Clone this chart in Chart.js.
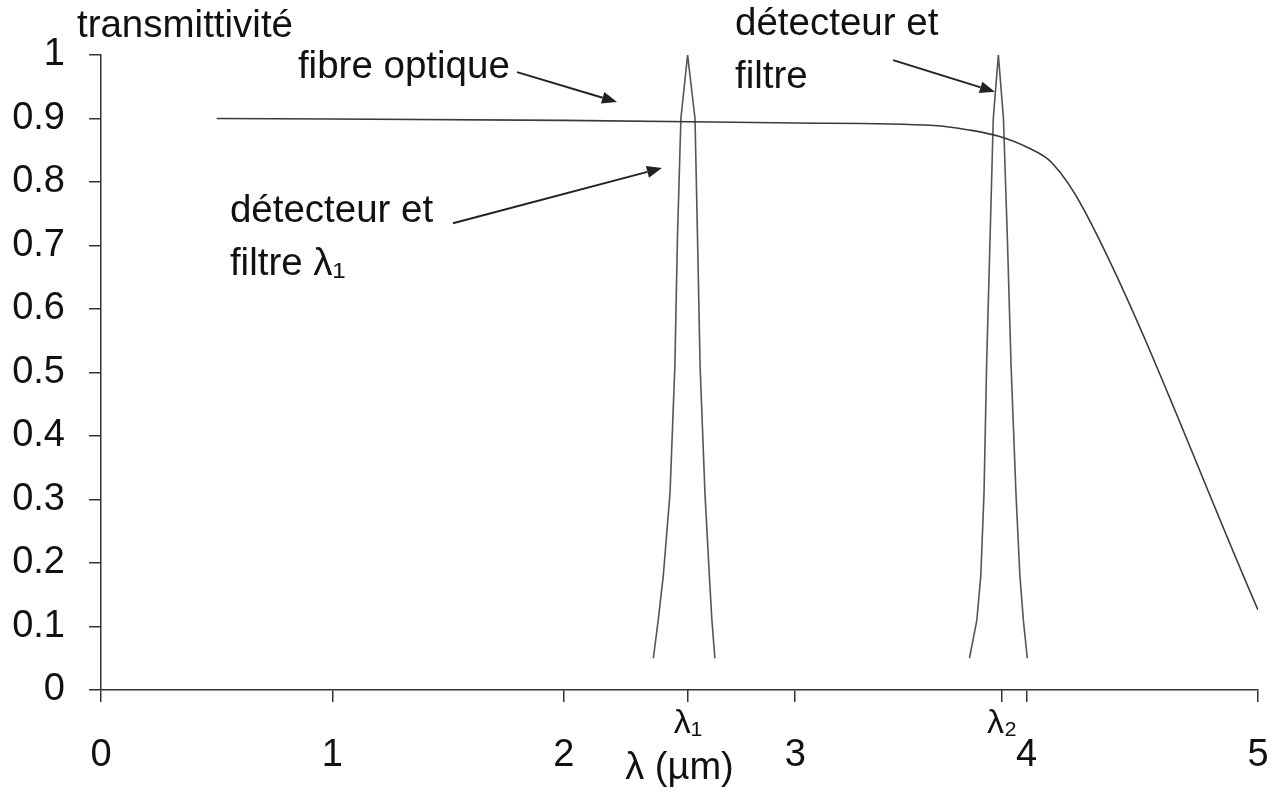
<!DOCTYPE html>
<html lang="fr">
<head>
<meta charset="utf-8">
<title>Transmittivité</title>
<script src="https://cdn.jsdelivr.net/npm/chart.js@4.4.1/dist/chart.umd.min.js"></script>
<style>
  html, body { margin: 0; padding: 0; background: #fff; }
</style>
</head>
<body>
<canvas id="chartCanvas" width="1280" height="796"></canvas>
<script>
    // fibre optique
    const fibreX = [0.5, 2.0, 3.0, 3.6, 3.75, 3.88, 4.0, 4.11, 4.25, 5.0];
    const fibreY = [0.9, 0.897, 0.893, 0.889, 0.882, 0.872, 0.855, 0.83, 0.755, 0.126];

    // détecteur et filtre lambda 1
    const filtre1X = [2.387, 2.408, 2.430, 2.459, 2.480, 2.491, 2.506, 2.535, 2.567, 2.578, 2.589, 2.610, 2.629, 2.640, 2.653];
    const filtre1Y = [0.05, 0.11, 0.18, 0.31, 0.51, 0.71, 0.9, 1.0, 0.9, 0.71, 0.51, 0.31, 0.18, 0.11, 0.05];

    // détecteur et filtre lambda 2
    const filtre2X = [3.753, 3.785, 3.802, 3.816, 3.827, 3.842, 3.856, 3.878, 3.900, 3.917, 3.933, 3.954, 3.971, 3.986, 4.003];
    const filtre2Y = [0.05, 0.11, 0.18, 0.31, 0.51, 0.71, 0.9, 1.0, 0.9, 0.71, 0.51, 0.31, 0.18, 0.11, 0.05];

    // graduations
    const lambdaTicks = [2.537, 3.894];
    const lambdaLabels = ['λ₁', 'λ₂'];

    // textes et flèches (en coordonnées des axes)
    const notes = [
        { lines: ['transmittivité'], x: -0.104, y: 1.028 },
        { lines: ['fibre optique'], x: 0.851, y: 0.964 },
        { lines: ['détecteur et', 'filtre λ₁'], x: 0.557, y: 0.737 },
        { lines: ['détecteur et', 'filtre'], x: 2.740, y: 1.031 }
    ];
    const arrows = [
        { from: [1.798, 0.973], to: [2.230, 0.926] },
        { from: [1.521, 0.735], to: [2.424, 0.822] },
        { from: [3.423, 0.992], to: [3.863, 0.942] }
    ];

    const toPoints = (xs, ys) => xs.map((x, i) => ({ x: x, y: ys[i] }));

    const inkColor = '#333';
    Chart.defaults.font.family = '"Liberation Sans", Arial, sans-serif';
    Chart.defaults.color = '#111';

    // pas de marge automatique à droite/gauche pour les axes horizontaux
    function noSidePadding(scale) {
        scale.paddingLeft = 0;
        scale.paddingRight = 0;
    }

    const notesPlugin = {
        id: 'notes',
        afterDraw(chart) {
            const ctx = chart.ctx;
            const sx = chart.scales.x, sy = chart.scales.y;
            ctx.save();
            ctx.fillStyle = '#111';
            ctx.font = '38.5px "Liberation Sans", Arial, sans-serif';
            ctx.textAlign = 'left';
            ctx.textBaseline = 'alphabetic';
            notes.forEach(n => {
                const px = sx.getPixelForValue(n.x);
                const py = sy.getPixelForValue(n.y);
                n.lines.forEach((l, i) => ctx.fillText(l, px, py + i * 53));
            });
            ctx.strokeStyle = '#222';
            ctx.fillStyle = '#222';
            ctx.lineWidth = 2;
            arrows.forEach(a => {
                const x1 = sx.getPixelForValue(a.from[0]), y1 = sy.getPixelForValue(a.from[1]);
                const x2 = sx.getPixelForValue(a.to[0]), y2 = sy.getPixelForValue(a.to[1]);
                const ang = Math.atan2(y2 - y1, x2 - x1);
                const hl = 15, hw = 6;
                const bx = x2 - hl * Math.cos(ang), by = y2 - hl * Math.sin(ang);
                ctx.beginPath();
                ctx.moveTo(x1, y1);
                ctx.lineTo(bx, by);
                ctx.stroke();
                ctx.beginPath();
                ctx.moveTo(x2, y2);
                ctx.lineTo(bx + hw * Math.sin(ang), by - hw * Math.cos(ang));
                ctx.lineTo(bx - hw * Math.sin(ang), by + hw * Math.cos(ang));
                ctx.closePath();
                ctx.fill();
            });
            ctx.restore();
        }
    };

    const ctx = document.getElementById('chartCanvas').getContext('2d');
    const chart = new Chart(ctx, {
        type: 'line',
        data: {
            datasets: [
                {
                    label: 'fibre optique',
                    data: toPoints(fibreX, fibreY),
                    borderColor: '#3a3a3a',
                    borderWidth: 1.6,
                    pointRadius: 0,
                    cubicInterpolationMode: 'monotone'
                },
                {
                    label: 'filtre λ1',
                    data: toPoints(filtre1X, filtre1Y),
                    borderColor: '#555',
                    borderWidth: 1.6,
                    pointRadius: 0,
                    tension: 0
                },
                {
                    label: 'filtre λ2',
                    data: toPoints(filtre2X, filtre2Y),
                    borderColor: '#555',
                    borderWidth: 1.6,
                    pointRadius: 0,
                    tension: 0
                }
            ]
        },
        options: {
            responsive: false,
            animation: false,
            layout: { padding: { top: 55, right: 22, left: 0, bottom: 0 } },
            plugins: {
                legend: { display: false },
                tooltip: { enabled: false }
            },
            scales: {
                x: {
                    type: 'linear',
                    position: 'bottom',
                    min: 0,
                    max: 5,
                    grid: { drawOnChartArea: false, tickLength: 12, color: inkColor, lineWidth: 1.5 },
                    border: { color: inkColor, width: 1.5 },
                    ticks: { stepSize: 1, padding: 31, font: { size: 38 }, maxRotation: 0 },
                    title: {
                        display: true,
                        text: 'λ (µm)',
                        font: { size: 38 },
                        padding: { top: 0, bottom: 5 }
                    },
                    afterFit(scale) { scale.height = 106; noSidePadding(scale); }
                },
                xLambda: {
                    axis: 'x',
                    type: 'linear',
                    position: { y: 0 },
                    min: 0,
                    max: 5,
                    grid: { drawOnChartArea: false, tickLength: 12, color: inkColor, lineWidth: 1.5 },
                    border: { display: false },
                    ticks: {
                        padding: 1,
                        font: { size: 34 },
                        maxRotation: 0,
                        autoSkip: false,
                        callback: function(value, index) { return lambdaLabels[index]; }
                    },
                    afterBuildTicks(axis) { axis.ticks = lambdaTicks.map(v => ({ value: v })); },
                    afterFit(scale) { noSidePadding(scale); }
                },
                y: {
                    type: 'linear',
                    min: 0,
                    max: 1,
                    grid: { drawOnChartArea: false, tickLength: 12, color: inkColor, lineWidth: 1.5 },
                    border: { color: inkColor, width: 1.5 },
                    ticks: {
                        stepSize: 0.1,
                        padding: 24,
                        font: { size: 38 },
                        callback: function(value) { return String(Math.round(value * 10) / 10); }
                    },
                    afterFit(scale) { scale.width = 101; }
                }
            }
        },
        plugins: [notesPlugin]
    });
</script>
</body>
</html>
